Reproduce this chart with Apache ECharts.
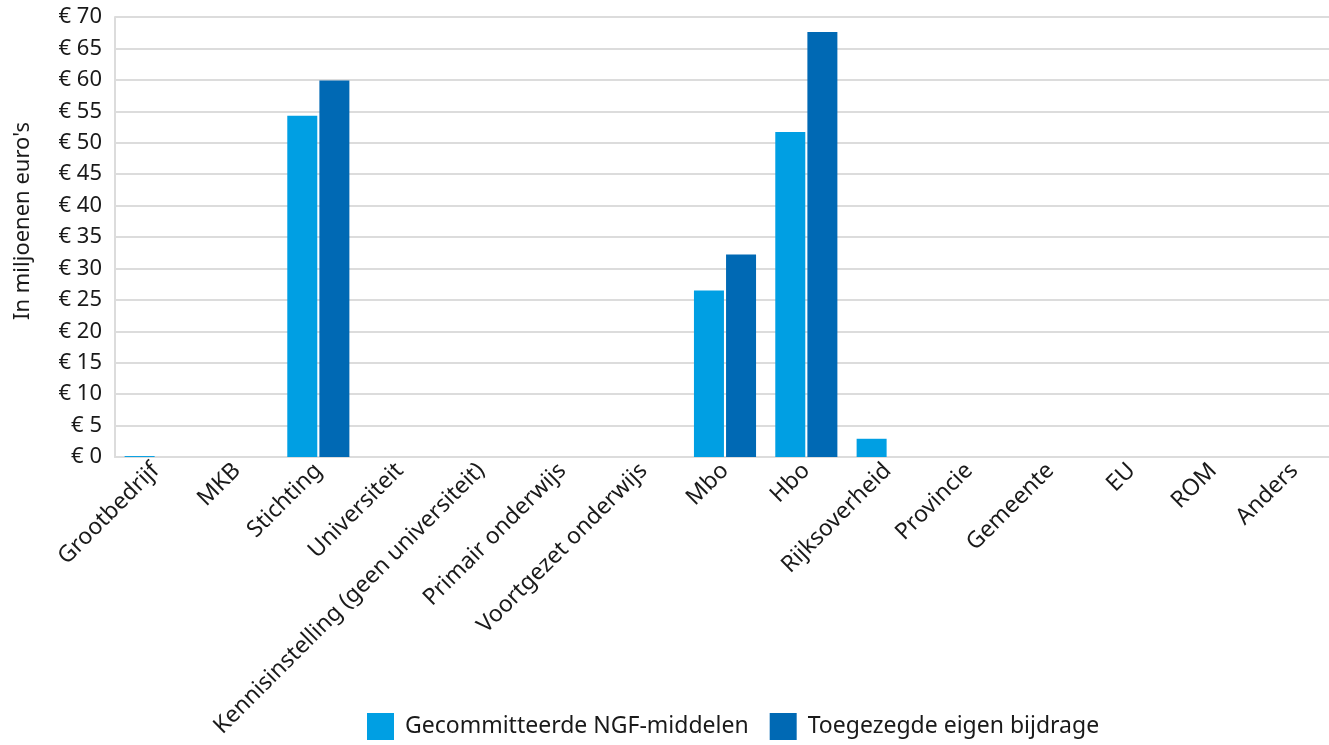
<!DOCTYPE html>
<html><head><meta charset="utf-8">
<script src="https://cdn.jsdelivr.net/npm/echarts@6/dist/echarts.min.js"></script>
<style>html,body{margin:0;padding:0;background:#fff}#c{width:1329px;height:745px}</style>
</head><body><div id="c"></div>
<script>
const categories = ['Grootbedrijf','MKB','Stichting','Universiteit','Kennisinstelling (geen universiteit)','Primair onderwijs','Voortgezet onderwijs','Mbo','Hbo','Rijksoverheid','Provincie','Gemeente','EU','ROM','Anders'];
const ngf = [0.15,0,54.3,0,0,0,0,26.5,51.7,2.9,0,0,0,0,0];
const eigen = [0,0,59.9,0,0,0,0,32.2,67.6,0,0,0,0,0,0];
const seriesNames = ['Gecommitteerde NGF-middelen','Toegezegde eigen bijdrage'];
const font = 'Noto Sans';
const chart = echarts.init(document.getElementById('c'));
chart.setOption({
  animation:false,
  textStyle:{fontFamily:font},
  grid:{left:115,width:1220,top:17,bottom:288,containLabel:false,outerBoundsMode:'none'},
  legend:{bottom:0,left:362,itemWidth:27,itemHeight:27,itemGap:21,icon:'rect',
    formatter:n=>'{t|'+n+'}',
    textStyle:{fontSize:23,color:'#1a1a1a',fontFamily:font,
      rich:{t:{fontSize:23,color:'#1a1a1a',fontFamily:font,padding:[0,0,0,6]}}},
    data:seriesNames},
  xAxis:{type:'category',data:categories,
    axisLine:{lineStyle:{color:'#dcdcdc',width:2}},axisTick:{show:false},
    axisLabel:{rotate:45,interval:0,fontSize:23,color:'#1a1a1a',margin:10,fontFamily:font}},
  yAxis:{type:'value',min:0,max:70,interval:5,name:"In miljoenen euro's",nameLocation:'middle',nameGap:81,
    nameTextStyle:{fontSize:22,color:'#1a1a1a',fontFamily:font,padding:[0,0,0,32]},
    axisLine:{show:true,lineStyle:{color:'#dcdcdc',width:2}},
    splitLine:{lineStyle:{color:'#dcdcdc',width:2}},
    axisLabel:{formatter:v=>'€ '+v,fontSize:22,color:'#1a1a1a',margin:13,fontFamily:font}},
  series:[
    {name:seriesNames[0],type:'bar',data:ngf,barWidth:30,barGap:'7%',itemStyle:{color:'#009fe3'}},
    {name:seriesNames[1],type:'bar',data:eigen,barWidth:30,itemStyle:{color:'#0069b4'}}
  ]
});
</script></body></html>
